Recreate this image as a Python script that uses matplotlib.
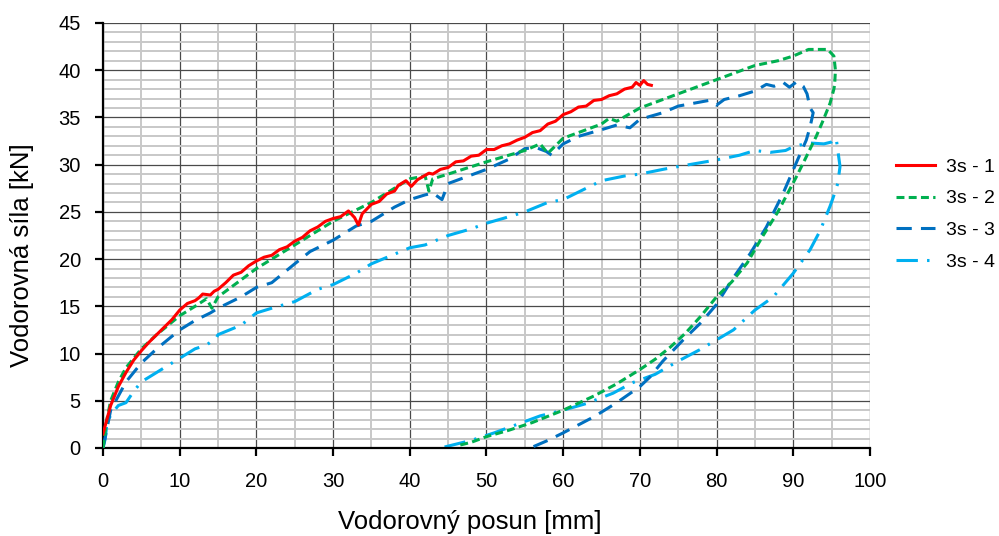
import matplotlib
matplotlib.use("Agg")
import matplotlib.pyplot as plt
from matplotlib.ticker import MultipleLocator

plt.rcParams['font.family'] = ['Liberation Sans', 'DejaVu Sans']

# 3s - 1 (red, solid)
x1 = [0, 0.5, 1, 2, 3, 4, 5, 6, 7, 8, 9, 10, 11, 12, 12.5, 13, 14, 14.5, 15, 16, 17, 18, 19, 20,
      21, 22, 23, 24, 25, 26, 27, 28, 29, 30, 31, 32, 32.8, 33.3, 33.8, 35, 36, 37, 38, 38.5, 39.5, 40.2, 41, 42.5,
      43, 44, 45, 46, 47, 48, 49, 50, 51, 52, 53, 54, 55, 56, 57, 58, 59, 60, 61, 62, 63, 64, 65, 66, 67, 68,
      69, 69.5, 70, 70.5, 71, 71.5]
y1 = [1.5, 3, 4.5, 6.5, 8, 9.3, 10.3, 11.2, 12, 12.8, 13.6, 14.6, 15.3, 15.6, 15.9, 16.3, 16.2, 16.6, 16.8, 17.5, 18.3, 18.6, 19.3, 19.8,
      20.2, 20.4, 21.0, 21.3, 21.9, 22.3, 23.0, 23.4, 24.0, 24.3, 24.5, 25.1, 24.4, 23.6, 24.8, 25.8, 26.1, 26.9, 27.2, 27.8, 28.3, 27.7, 28.4, 29.1,
      29.0, 29.5, 29.7, 30.3, 30.4, 30.9, 31.0, 31.6, 31.6, 32.0, 32.2, 32.6, 32.9, 33.4, 33.6, 34.3, 34.6, 35.3, 35.6, 36.1, 36.2, 36.8, 36.9, 37.3, 37.5, 38.0,
      38.2, 38.7, 38.4, 38.9, 38.5, 38.4]

# 3s - 2 (green, dashed)
x2 = [0, 0.5, 1, 2, 3, 5, 7, 10, 12, 13.5, 14.2, 15, 20, 25, 30, 32, 35, 40, 42, 42.5, 43, 45, 50, 55, 57, 58, 59, 60,
      65, 66, 67, 70, 75, 80, 85, 88, 90, 92, 94.5, 95.3, 95.5, 95.4,
      95.3, 94.8, 93.8, 93, 91.5, 90.4, 88, 86, 84, 82, 80, 78, 76, 74, 72, 70, 67, 64, 60, 56, 53, 50, 48, 46.5, 46.3]
y2 = [0, 3, 5, 7, 8.5, 10.5, 12, 14, 15, 15.8, 14.8, 16, 19, 21.5, 24, 24.8, 26, 28.5, 28.8, 27.2, 28.5, 29, 30.3, 31.5, 32.2, 31.2, 32, 32.8,
      34.3, 34.9, 34.6, 36, 37.5, 39, 40.5, 41, 41.5, 42.2, 42.2, 41.5, 40, 38.5,
      38, 36.5, 34.5, 33, 30.5, 28.7, 25, 22.4, 19.6, 17.6, 16, 14, 12.2, 10.7, 9.4, 8.3, 6.8, 5.5, 4.0, 2.7, 1.9, 1.2, 0.6, 0.3, 0]

# 3s - 3 (dark blue, long dashes)
x3 = [0, 0.5, 1, 2, 3, 5, 7, 10, 12, 14, 15, 16, 18, 20, 22, 25, 27, 30, 33, 35, 38, 40, 42, 43, 44.2, 45, 50, 53, 55, 56.5,
      57.8, 58.5, 60, 62, 65, 67, 68.7, 70, 73, 75, 77, 79, 80, 81, 83, 85, 86.5, 87.5, 88.7, 89.5, 90.5, 91.3, 91.8,
      92.2, 92.6, 92.2, 91.7, 90.4, 88.7, 86.5, 84.4, 82, 80, 78, 75.6, 73, 71.3, 70, 67, 64, 60, 58, 56]
y3 = [0, 2, 4, 5.5, 7, 9, 10.5, 12.5, 13.5, 14.3, 14.8, 15.2, 16, 17, 17.5, 19.5, 20.8, 22, 23.5, 24, 25.5, 26.3, 26.8, 27, 26.3, 28, 29.5, 30.6, 31.7, 31.8,
      31.4, 31.0, 32.2, 33, 33.7, 34.2, 33.9, 34.8, 35.5, 36.2, 36.5, 36.8, 36.3, 36.9, 37.3, 37.8, 38.5, 38.3, 38.7, 38.2, 38.8, 38.3, 37.5,
      36.0, 35.5, 34, 32.6, 30.2, 27, 23.4, 20.6, 17.8, 15.2, 13.3, 11.4, 9.2, 7.5, 6.5, 4.8, 3.3, 1.6, 0.8, 0.1]

# 3s - 4 (light blue, dash-dot)
x4 = [0, 0.3, 0.5, 1, 2, 3, 4, 5, 7, 10, 12, 13.5, 14.8, 15, 18, 20, 22, 25, 28, 30, 33, 35, 40, 42, 45, 48, 50, 53, 55, 58,
      60, 63, 65, 68, 70, 73, 75, 80, 83, 85, 87, 89, 90, 92, 94, 95, 95.6,
      96.1, 95.8, 95.2, 94.8, 93.5, 92.2, 90, 87.4, 85, 82.2, 77.8, 75, 72, 69, 66.5, 63, 60, 57, 54, 51, 48, 46, 44]
y4 = [0, 1, 2.5, 3.5, 4.5, 4.8, 6, 7, 8, 9.5, 10.5, 10.9, 11.7, 12, 13, 14.3, 14.8, 15.5, 16.8, 17.3, 18.5, 19.5, 21.2, 21.5, 22.5, 23.2, 23.8, 24.5, 25, 26,
      26.3, 27.5, 28.3, 28.8, 29.0, 29.5, 29.8, 30.5, 31, 31.5, 31.3, 31.5, 31.9, 32.3, 32.2, 32.4, 32.8,
      29.8, 28, 26.5, 25.6, 23, 21, 18.5, 16, 14.6, 12.5, 10.4, 9.2, 7.8, 6.9, 5.8, 4.7, 4.0, 3.4, 2.5, 1.6, 0.8, 0.4, 0]

labels = ["3s - 1", "3s - 2", "3s - 3", "3s - 4"]
colors = ["#FF0000", "#00B050", "#0070C0", "#00B0F0"]

fig = plt.figure(figsize=(9.99, 5.36), dpi=100)
ax = fig.add_axes([0.1031, 0.1642, 0.7677, 0.7929])

lw = 2.2
h1, = ax.plot(x1, y1, color=colors[0], lw=lw, label=labels[0], zorder=5)
h2, = ax.plot(x2, y2, color=colors[1], lw=lw, label=labels[1], dashes=(2.6, 1.4), zorder=4)
h3, = ax.plot(x3, y3, color=colors[2], lw=lw, label=labels[2], dashes=(5, 3), zorder=3)
h4, = ax.plot(x4, y4, color=colors[3], lw=lw, label=labels[3], dashes=(7, 3, 0.8, 3), zorder=2)

ax.set_xlim(0, 100)
ax.set_ylim(0, 45)
ax.xaxis.set_major_locator(MultipleLocator(10))
ax.xaxis.set_minor_locator(MultipleLocator(5))
ax.yaxis.set_major_locator(MultipleLocator(5))
ax.yaxis.set_minor_locator(MultipleLocator(1))

ax.grid(which='minor', color='#C8C8C8', lw=1.4, zorder=0)
ax.grid(which='major', color='#4A4A4A', lw=0.9, zorder=1)
ax.set_axisbelow(True)

for s in ['top', 'right']:
    ax.spines[s].set_visible(False)
for s in ['left', 'bottom']:
    ax.spines[s].set_linewidth(1.6)
    ax.spines[s].set_color('black')

ax.tick_params(which='major', direction='out', length=6, width=1.6, labelsize=14.5)
ax.tick_params(axis='x', which='major', pad=11)
ax.tick_params(axis='y', which='major', pad=10)
ax.tick_params(which='minor', length=0)

ax.set_xlabel("Vodorovný posun [mm]", fontsize=18.5, va='center')
ax.xaxis.set_label_coords(0.478, -0.174)
ax.set_ylabel("Vodorovná síla [kN]", fontsize=18.5, va='center')
ax.yaxis.set_label_coords(-0.106, 0.454)

fig.legend(handles=[h1, h2, h3, h4], labels=labels, loc='center left',
           bbox_to_anchor=(0.897, 0.600), frameon=False, borderpad=0, borderaxespad=0,
           fontsize=14, handlelength=2.0, handletextpad=0.55, labelspacing=0.72)

fig.savefig("out.png", dpi=100)
